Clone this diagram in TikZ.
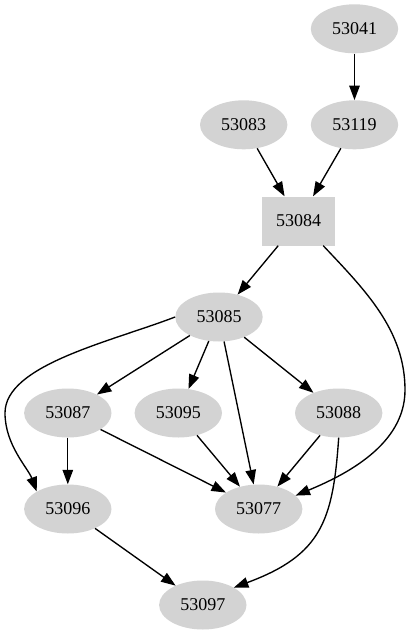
\documentclass[tikz,border=0pt]{standalone}
\usepackage{fontspec}
\setmainfont{Liberation Serif}
\usetikzlibrary{shapes.geometric,arrows.meta}
\begin{document}
\begin{tikzpicture}[x=1pt,y=-1pt,
  every node/.style={font=\fontsize{18}{20}\selectfont},
  ell/.style={ellipse,fill=lightgray,minimum width=87.4pt,minimum height=49pt,inner sep=0pt},
  boxn/.style={rectangle,fill=lightgray,minimum width=72.7pt,minimum height=49pt,inner sep=0pt},
  edge/.style={line width=1.35pt,-{Triangle[length=14.5pt,width=10.5pt]}}]
\definecolor{lightgray}{HTML}{D3D3D3}
\useasboundingbox (0,0) rectangle (411,635);
\node[ell] (n53041) at (354.5,28.8) {53041};
\node[ell] (n53083) at (243.7,124.8) {53083};
\node[ell] (n53119) at (354.5,124.8) {53119};
\node[boxn] (n53084) at (298.7,221) {53084};
\node[ell] (n53085) at (219,317) {53085};
\node[ell] (n53087) at (67.8,413) {53087};
\node[ell] (n53095) at (178.3,413) {53095};
\node[ell] (n53088) at (338.7,413) {53088};
\node[ell] (n53096) at (67.8,509) {53096};
\node[ell] (n53077) at (258.7,509) {53077};
\node[ell] (n53097) at (202.8,605) {53097};
\coordinate (cr) at (405,390);
\coordinate (cl) at (5,413);
\draw[edge] (n53041) -- (n53119);
\draw[edge] (n53083) -- (n53084);
\draw[edge] (n53119) -- (n53084);
\draw[edge] (n53084) -- (n53085);
\draw[edge] (n53084.south east) ++(-12,0) .. controls (365,290) and (405,330) .. (cr) .. controls (405,445) and (345,475) .. (n53077.20);
\draw[edge] (n53085) -- (n53087);
\draw[edge] (n53085) -- (n53095);
\draw[edge] (n53085) -- (n53077);
\draw[edge] (n53085) -- (n53088);
\draw[edge] (n53085.west) .. controls (110,342) and (5,365) .. (cl) .. controls (5,445) and (28,468) .. (n53096.north west);
\draw[edge] (n53087) -- (n53096);
\draw[edge] (n53087) -- (n53077);
\draw[edge] (n53095) -- (n53077);
\draw[edge] (n53088) -- (n53077);
\draw[edge] (n53088.south) .. controls (333,520) and (322,555) .. (n53097.north east);
\draw[edge] (n53096) -- (n53097);
\end{tikzpicture}
\end{document}
